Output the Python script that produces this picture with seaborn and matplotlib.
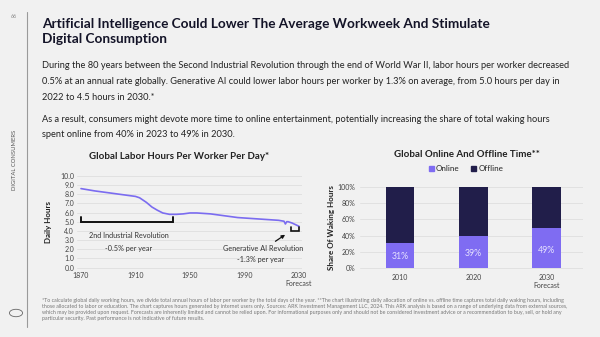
import matplotlib
matplotlib.use("Agg")
import matplotlib.pyplot as plt
import seaborn as sns
import pandas as pd
from matplotlib.patches import Patch, Circle
from matplotlib.lines import Line2D

# ---------------- data ----------------
years = [1870, 1880, 1890, 1900, 1910, 1913, 1918, 1922, 1926, 1930, 1935, 1940,
         1945, 1950, 1955, 1960, 1965, 1970, 1975, 1980, 1985, 1990, 1995, 2000,
         2005, 2010, 2015, 2019, 2020, 2021, 2022, 2025, 2030]
hours = [8.6, 8.35, 8.15, 7.95, 7.75, 7.6, 7.1, 6.6, 6.25, 5.95, 5.8, 5.8,
         5.85, 5.95, 5.95, 5.9, 5.85, 5.75, 5.65, 5.55, 5.45, 5.4, 5.35, 5.3,
         5.25, 5.2, 5.15, 5.05, 4.75, 5.0, 5.0, 4.85, 4.5]
x_ticks = [1870, 1910, 1950, 1990, 2030]
y_ticks_left = [0, 1, 2, 3, 4, 5, 6, 7, 8, 9, 10]

bar_years = ["2010", "2020", "2030"]
bar_tick_labels = ["2010", "2020", "2030\nForecast"]
online = [31, 39, 49]
offline = [69, 61, 51]
y_ticks_right = [0, 20, 40, 60, 80, 100]

# ---------------- style ----------------
BG = "#f1f1f1"
NAVY = "#211e4a"
PURPLE = "#7f6cf2"
LINE = "#7b6cf0"
GRID = "#dedede"
TXT = "#222222"
TICK = "#444444"

sns.set_theme(style="white")
plt.rcParams["font.family"] = ["Lato", "DejaVu Sans"]

fig = plt.figure(figsize=(6, 3.37), dpi=100, facecolor=BG)

# frame decorations
fig.add_artist(Line2D([27.5 / 600, 27.5 / 600], [1 - 12 / 337, 1 - 327 / 337],
                      color="#9a9a9a", lw=0.8, transform=fig.transFigure))
fig.text(14 / 600, 1 - 17 / 337, "66", fontsize=4, color="#888888", ha="center", va="center")
fig.text(15 / 600, 1 - 160 / 337, "DIGITAL CONSUMERS", fontsize=4.2, color="#555555",
         rotation=90, ha="center", va="center")
fig.add_artist(Circle((16 / 600, 1 - 313 / 337), 0.011, transform=fig.transFigure,
                      fill=False, ec="#666666", lw=0.6))

# title
fig.text(42 / 600, 1 - 23.5 / 337,
         "Artificial Intelligence Could Lower The Average Workweek And Stimulate",
         fontsize=9.8, fontweight="bold", color="#141428", ha="left", va="center")
fig.text(42 / 600, 1 - 39 / 337, "Digital Consumption",
         fontsize=9.8, fontweight="bold", color="#141428", ha="left", va="center")

body = [
    (66, "During the 80 years between the Second Industrial Revolution through the end of World War II, labor hours per worker decreased"),
    (82, "0.5% at an annual rate globally. Generative AI could lower labor hours per worker by 1.3% on average, from 5.0 hours per day in"),
    (97.5, "2022 to 4.5 hours in 2030.*"),
    (119.5, "As a result, consumers might devote more time to online entertainment, potentially increasing the share of total waking hours"),
    (135, "spent online from 40% in 2023 to 49% in 2030."),
]
for y, t in body:
    fig.text(42 / 600, 1 - y / 337, t, fontsize=6.7, color=TXT, ha="left", va="center")

# ---------------- left chart ----------------
axL = fig.add_axes([0.1282, 0.2003, 0.3747, 0.2837])
axL.set_facecolor(BG)
df_line = pd.DataFrame({"year": years, "hours": hours})
sns.lineplot(data=df_line, x="year", y="hours", ax=axL, color=LINE, lw=1.2)
axL.set_xlim(1867, 2032)
axL.set_ylim(-0.2, 10.2)
axL.set_yticks(y_ticks_left)
axL.set_yticklabels([f"{v:.1f}" for v in y_ticks_left])
axL.set_xticks(x_ticks)
axL.set_xticklabels([str(v) if v != 2030 else "2030\nForecast" for v in x_ticks])
axL.grid(axis="y", color=GRID, lw=0.6)
axL.set_axisbelow(True)
for s in axL.spines.values():
    s.set_visible(False)
axL.tick_params(axis="both", length=0, labelsize=5, labelcolor=TICK, pad=2)
for lab in axL.get_xticklabels():
    lab.set_verticalalignment("top")
axL.set_xlabel("")
axL.set_ylabel("Daily Hours", fontsize=5.8, fontweight="bold", color=TXT, labelpad=6)
axL.set_title("Global Labor Hours Per Worker Per Day*", fontsize=7, fontweight="bold",
              color=TXT, pad=11, x=0.456)

# brackets
axL.plot([1870, 1870, 1937.5, 1937.5], [5.5, 5.0, 5.0, 5.5], color="#111111", lw=1.4,
         solid_joinstyle="miter")
axL.plot([2024, 2024, 2030, 2030], [4.4, 3.95, 3.95, 4.4], color="#111111", lw=1.2,
         clip_on=False, solid_joinstyle="miter")
axL.annotate("", xy=(2021.5, 3.75), xytext=(2011, 2.7),
             arrowprops=dict(arrowstyle="-|>", color="#111111", lw=0.9, mutation_scale=5))
axL.text(1905, 3.5, "2nd Industrial Revolution", fontsize=5.2, color="#333333",
         ha="center", va="center")
axL.text(1905, 2.1, "-0.5% per year", fontsize=5.2, color="#333333", ha="center", va="center")
axL.text(2004, 2.1, "Generative AI Revolution", fontsize=5.2, color="#333333",
         ha="center", va="center")
axL.text(2002, 0.85, "-1.3% per year", fontsize=5.2, color="#333333", ha="center", va="center")

# ---------------- right chart ----------------
axR = fig.add_axes([0.5995, 0.1991, 0.3727, 0.2516])
axR.set_facecolor(BG)
total = [a + b for a, b in zip(online, offline)]
df_bar = pd.DataFrame({"year": bar_years, "online": online, "total": total})
sns.barplot(data=df_bar, x="year", y="total", ax=axR, color=NAVY, width=0.39,
            saturation=1, linewidth=0)
sns.barplot(data=df_bar, x="year", y="online", ax=axR, color=PURPLE, width=0.39,
            saturation=1, linewidth=0)
axR.set_xlim(-0.55, 2.5)
axR.set_ylim(-2, 102)
axR.set_yticks(y_ticks_right)
axR.set_yticklabels([f"{v}%" for v in y_ticks_right])
axR.set_xticks(range(len(bar_years)))
axR.set_xticklabels(bar_tick_labels)
axR.grid(axis="y", color=GRID, lw=0.6)
axR.set_axisbelow(True)
for s in axR.spines.values():
    s.set_visible(False)
axR.tick_params(axis="both", length=0, labelsize=5, labelcolor=TICK, pad=3)
axR.set_xlabel("")
axR.set_ylabel("Share Of Waking Hours", fontsize=5.8, fontweight="bold", color=TXT, labelpad=2)
for i, v in enumerate(online):
    axR.text(i, v * 0.45, f"{v}%", fontsize=6.3, color="#e6e2ff", ha="center", va="center")
axR.set_title("Global Online And Offline Time**", fontsize=7, fontweight="bold",
              color=TXT, pad=20, x=0.478)
handles = [Patch(color=PURPLE, label="Online"), Patch(color=NAVY, label="Offline")]
axR.legend(handles=handles, loc="lower center", bbox_to_anchor=(0.475, 1.065), ncol=2,
           frameon=False, fontsize=5.8, handlelength=0.6, handleheight=0.6,
           handletextpad=0.3, columnspacing=1.4, labelcolor=TXT)

# ---------------- footer ----------------
footer = [
    "*To calculate global daily working hours, we divide total annual hours of labor per worker by the total days of the year. **The chart illustrating daily allocation of online vs. offline time captures total daily waking hours, including",
    "those allocated to labor or education. The chart captures hours generated by internet users only. Sources: ARK Investment Management LLC, 2024. This ARK analysis is based on a range of underlying data from external sources,",
    "which may be provided upon request. Forecasts are inherently limited and cannot be relied upon. For informational purposes only and should not be considered investment advice or a recommendation to buy, sell, or hold any",
    "particular security. Past performance is not indicative of future results.",
]
for i, t in enumerate(footer):
    fig.text(42 / 600, 1 - (300.5 + 5.9 * i) / 337, t, fontsize=3.82, color="#777777",
             ha="left", va="center")

fig.savefig("out.png", dpi=100, facecolor=BG)
